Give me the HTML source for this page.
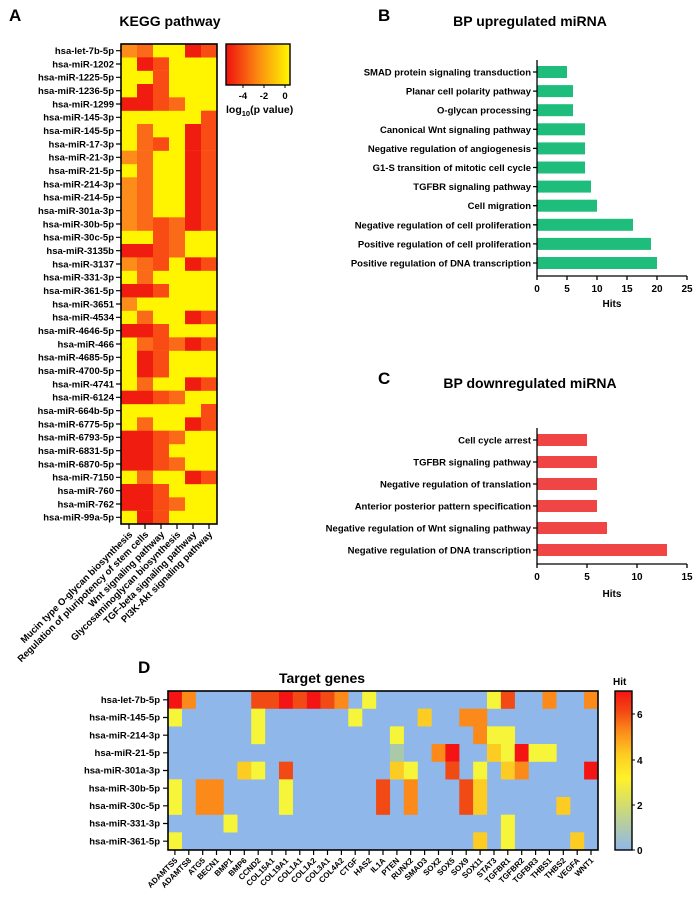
<!DOCTYPE html>
<html><head><meta charset="utf-8"><style>
body{margin:0;background:#fff}
svg{display:block;font-family:"Liberation Sans",sans-serif;font-weight:bold}
.a{fill:#f01c10}.b{fill:#f84c14}.c{fill:#fb6a18}.d{fill:#fd8c1a}
.r7{fill:#f41414}.r6{fill:#f24a14}.r5{fill:#fb8a1a}.r4{fill:#fdcc22}.r3{fill:#f6f53a}.r1{fill:#a9c9a8}
.l{font-size:9.5px;text-anchor:end}
.g{font-size:8px;text-anchor:end}
</style></head><body>
<svg width="697" height="900" viewBox="0 0 697 900" xmlns="http://www.w3.org/2000/svg">
<defs>
<linearGradient id="kg" x1="0" x2="1" y1="0" y2="0"><stop offset="0" stop-color="#f01010"/><stop offset="0.5" stop-color="#fb8a10"/><stop offset="1" stop-color="#fff800"/></linearGradient>
<linearGradient id="hg" x1="0" x2="0" y1="1" y2="0"><stop offset="0" stop-color="#8fb7ea"/><stop offset="0.28" stop-color="#d2dc70"/><stop offset="0.45" stop-color="#fff22a"/><stop offset="0.6" stop-color="#fdcc22"/><stop offset="0.75" stop-color="#fb8a1a"/><stop offset="0.87" stop-color="#f24a14"/><stop offset="1" stop-color="#f41414"/></linearGradient>
</defs>
<!-- Panel A -->
<text x="9" y="21" font-size="17">A</text>
<text x="170" y="26" font-size="14" text-anchor="middle">KEGG pathway</text>
<rect x="121" y="44" width="96" height="480" fill="#fff500"/>
<g>
<g transform="translate(0,44)"><rect class="d" x="121" width="16" height="13.5"/><rect class="c" x="137" width="16" height="13.5"/><rect class="a" x="185" width="16" height="13.5"/><rect class="b" x="201" width="16" height="13.5"/></g>
<g transform="translate(0,57.33)"><rect class="a" x="137" width="16" height="13.5"/><rect class="b" x="153" width="16" height="13.5"/></g>
<g transform="translate(0,70.67)"><rect class="b" x="153" width="16" height="13.5"/></g>
<g transform="translate(0,84)"><rect class="a" x="137" width="16" height="13.5"/><rect class="b" x="153" width="16" height="13.5"/></g>
<g transform="translate(0,97.33)"><rect class="a" x="121" width="32" height="13.5"/><rect class="b" x="153" width="16" height="13.5"/><rect class="c" x="169" width="16" height="13.5"/></g>
<g transform="translate(0,110.67)"><rect class="b" x="201" width="16" height="13.5"/></g>
<g transform="translate(0,124)"><rect class="c" x="137" width="16" height="13.5"/><rect class="a" x="185" width="16" height="13.5"/><rect class="b" x="201" width="16" height="13.5"/></g>
<g transform="translate(0,137.33)"><rect class="c" x="137" width="16" height="13.5"/><rect class="b" x="153" width="16" height="13.5"/><rect class="a" x="185" width="16" height="13.5"/><rect class="b" x="201" width="16" height="13.5"/></g>
<g transform="translate(0,150.67)"><rect class="d" x="121" width="16" height="13.5"/><rect class="c" x="137" width="16" height="13.5"/><rect class="a" x="185" width="16" height="13.5"/><rect class="b" x="201" width="16" height="13.5"/></g>
<g transform="translate(0,164)"><rect class="c" x="137" width="16" height="13.5"/><rect class="a" x="185" width="16" height="13.5"/><rect class="b" x="201" width="16" height="13.5"/></g>
<g transform="translate(0,177.33)"><rect class="d" x="121" width="16" height="53.5"/><rect class="c" x="137" width="16" height="53.5"/><rect class="a" x="185" width="16" height="53.5"/><rect class="b" x="201" width="16" height="53.5"/></g>
<g transform="translate(0,217.33)"><rect class="b" x="153" width="16" height="26.8"/><rect class="c" x="169" width="16" height="26.8"/></g>
<g transform="translate(0,244)"><rect class="a" x="121" width="32" height="13.5"/><rect class="b" x="153" width="16" height="13.5"/><rect class="c" x="169" width="16" height="13.5"/></g>
<g transform="translate(0,257.33)"><rect class="d" x="121" width="16" height="13.5"/><rect class="c" x="137" width="16" height="13.5"/><rect class="b" x="153" width="16" height="13.5"/><rect class="a" x="185" width="16" height="13.5"/><rect class="b" x="201" width="16" height="13.5"/></g>
<g transform="translate(0,270.67)"><rect class="c" x="137" width="16" height="13.5"/></g>
<g transform="translate(0,284)"><rect class="a" x="121" width="32" height="13.5"/><rect class="b" x="153" width="16" height="13.5"/></g>
<g transform="translate(0,297.33)"><rect class="d" x="121" width="16" height="13.5"/></g>
<g transform="translate(0,310.67)"><rect class="c" x="137" width="16" height="13.5"/><rect class="a" x="185" width="16" height="13.5"/><rect class="b" x="201" width="16" height="13.5"/></g>
<g transform="translate(0,324)"><rect class="a" x="121" width="32" height="13.5"/><rect class="b" x="153" width="16" height="13.5"/></g>
<g transform="translate(0,337.33)"><rect class="c" x="137" width="16" height="13.5"/><rect class="b" x="153" width="16" height="13.5"/><rect class="c" x="169" width="16" height="13.5"/><rect class="a" x="185" width="16" height="13.5"/><rect class="b" x="201" width="16" height="13.5"/></g>
<g transform="translate(0,350.67)"><rect class="a" x="137" width="16" height="26.8"/><rect class="b" x="153" width="16" height="26.8"/></g>
<g transform="translate(0,377.33)"><rect class="c" x="137" width="16" height="13.5"/><rect class="a" x="185" width="16" height="13.5"/><rect class="b" x="201" width="16" height="13.5"/></g>
<g transform="translate(0,390.67)"><rect class="a" x="121" width="32" height="13.5"/><rect class="b" x="153" width="16" height="13.5"/><rect class="c" x="169" width="16" height="13.5"/></g>
<g transform="translate(0,404)"><rect class="b" x="201" width="16" height="13.5"/></g>
<g transform="translate(0,417.33)"><rect class="c" x="137" width="16" height="13.5"/><rect class="a" x="185" width="16" height="13.5"/><rect class="b" x="201" width="16" height="13.5"/></g>
<g transform="translate(0,430.67)"><rect class="a" x="121" width="32" height="40"/><rect class="b" x="153" width="16" height="40"/><rect class="c" x="169" width="16" height="13.5"/></g>
<g transform="translate(0,457.33)"><rect class="c" x="169" width="16" height="13.5"/></g>
<g transform="translate(0,470.67)"><rect class="c" x="137" width="16" height="13.5"/><rect class="a" x="185" width="16" height="13.5"/><rect class="b" x="201" width="16" height="13.5"/></g>
<g transform="translate(0,484)"><rect class="a" x="121" width="32" height="26.8"/><rect class="b" x="153" width="16" height="26.8"/></g>
<g transform="translate(0,497.33)"><rect class="c" x="169" width="16" height="13.5"/></g>
<g transform="translate(0,510.67)"><rect class="a" x="137" width="16" height="13.3"/><rect class="b" x="153" width="16" height="13.3"/></g>
</g>
<rect x="121" y="44" width="96" height="480" fill="none" stroke="#000" stroke-width="1.6"/>
<g stroke="#000" stroke-width="1.2">
<path d="M116 50.7h5M116 64h5M116 77.3h5M116 90.7h5M116 104h5M116 117.3h5M116 130.7h5M116 144h5M116 157.3h5M116 170.7h5M116 184h5M116 197.3h5M116 210.7h5M116 224h5M116 237.3h5M116 250.7h5M116 264h5M116 277.3h5M116 290.7h5M116 304h5M116 317.3h5M116 330.7h5M116 344h5M116 357.3h5M116 370.7h5M116 384h5M116 397.3h5M116 410.7h5M116 424h5M116 437.3h5M116 450.7h5M116 464h5M116 477.3h5M116 490.7h5M116 504h5M116 517.3h5"/>
<path d="M129 524v5M145 524v5M161 524v5M177 524v5M193 524v5M209 524v5"/>
</g>
<g class="l">
<text x="114" y="54">hsa-let-7b-5p</text><text x="114" y="67.3">hsa-miR-1202</text><text x="114" y="80.6">hsa-miR-1225-5p</text><text x="114" y="94">hsa-miR-1236-5p</text><text x="114" y="107.3">hsa-miR-1299</text><text x="114" y="120.6">hsa-miR-145-3p</text><text x="114" y="134">hsa-miR-145-5p</text><text x="114" y="147.3">hsa-miR-17-3p</text><text x="114" y="160.6">hsa-miR-21-3p</text><text x="114" y="174">hsa-miR-21-5p</text><text x="114" y="187.3">hsa-miR-214-3p</text><text x="114" y="200.6">hsa-miR-214-5p</text><text x="114" y="214">hsa-miR-301a-3p</text><text x="114" y="227.3">hsa-miR-30b-5p</text><text x="114" y="240.6">hsa-miR-30c-5p</text><text x="114" y="254">hsa-miR-3135b</text><text x="114" y="267.3">hsa-miR-3137</text><text x="114" y="280.6">hsa-miR-331-3p</text><text x="114" y="294">hsa-miR-361-5p</text><text x="114" y="307.3">hsa-miR-3651</text><text x="114" y="320.6">hsa-miR-4534</text><text x="114" y="334">hsa-miR-4646-5p</text><text x="114" y="347.3">hsa-miR-466</text><text x="114" y="360.6">hsa-miR-4685-5p</text><text x="114" y="374">hsa-miR-4700-5p</text><text x="114" y="387.3">hsa-miR-4741</text><text x="114" y="400.6">hsa-miR-6124</text><text x="114" y="414">hsa-miR-664b-5p</text><text x="114" y="427.3">hsa-miR-6775-5p</text><text x="114" y="440.6">hsa-miR-6793-5p</text><text x="114" y="454">hsa-miR-6831-5p</text><text x="114" y="467.3">hsa-miR-6870-5p</text><text x="114" y="480.6">hsa-miR-7150</text><text x="114" y="494">hsa-miR-760</text><text x="114" y="507.3">hsa-miR-762</text><text x="114" y="520.6">hsa-miR-99a-5p</text>
</g>
<g class="l">
<text transform="translate(133,535) rotate(-45)">Mucin type O-glycan biosynthesis</text>
<text transform="translate(149,535) rotate(-45)">Regulation of pluripotency of stem cells</text>
<text transform="translate(165,535) rotate(-45)">Wnt signaling pathway</text>
<text transform="translate(181,535) rotate(-45)">Glycosaminoglycan biosynthesis</text>
<text transform="translate(197,535) rotate(-45)">TGF-beta signaling pathway</text>
<text transform="translate(213,535) rotate(-45)">PI3K-Akt signaling pathway</text>
</g>
<rect x="226" y="44" width="64" height="41" fill="url(#kg)" stroke="#000" stroke-width="1.4"/>
<path d="M243 85v3M264 85v3M285 85v3" stroke="#000"/>
<g font-size="9.5" text-anchor="middle"><text x="243" y="99">-4</text><text x="264" y="99">-2</text><text x="285" y="99">0</text></g>
<text x="226" y="113" font-size="10.5">log<tspan font-size="7.5" dy="3">10</tspan><tspan dy="-3">(p value)</tspan></text>

<!-- Panel B -->
<text x="378" y="21" font-size="17">B</text>
<text x="530" y="26" font-size="14" text-anchor="middle">BP upregulated miRNA</text>
<g fill="#1fbd7b">
<rect x="537" y="66" width="30" height="12"/><rect x="537" y="85.1" width="36" height="12"/><rect x="537" y="104.2" width="36" height="12"/><rect x="537" y="123.3" width="48" height="12"/><rect x="537" y="142.4" width="48" height="12"/><rect x="537" y="161.5" width="48" height="12"/><rect x="537" y="180.6" width="54" height="12"/><rect x="537" y="199.7" width="60" height="12"/><rect x="537" y="218.8" width="96" height="12"/><rect x="537" y="237.9" width="114" height="12"/><rect x="537" y="257" width="120" height="12"/>
</g>
<g class="l" font-size="10">
<text x="531" y="75.5">SMAD protein signaling transduction</text><text x="531" y="94.6">Planar cell polarity pathway</text><text x="531" y="113.7">O-glycan processing</text><text x="531" y="132.8">Canonical Wnt signaling pathway</text><text x="531" y="151.9">Negative regulation of angiogenesis</text><text x="531" y="171">G1-S transition of mitotic cell cycle</text><text x="531" y="190.1">TGFBR signaling pathway</text><text x="531" y="209.2">Cell migration</text><text x="531" y="228.3">Negative regulation of cell proliferation</text><text x="531" y="247.4">Positive regulation of cell proliferation</text><text x="531" y="266.5">Positive regulation of DNA transcription</text>
</g>
<g stroke="#000" stroke-width="1.3" fill="none">
<path d="M537 60V276H687"/>
<path d="M533 72h4M533 91.1h4M533 110.2h4M533 129.3h4M533 148.4h4M533 167.5h4M533 186.6h4M533 205.7h4M533 224.8h4M533 243.9h4M533 263h4"/>
<path d="M537 276v4M567 276v4M597 276v4M627 276v4M657 276v4M687 276v4"/>
</g>
<g font-size="10" text-anchor="middle"><text x="537" y="292">0</text><text x="567" y="292">5</text><text x="597" y="292">10</text><text x="627" y="292">15</text><text x="657" y="292">20</text><text x="687" y="292">25</text><text x="612" y="307">Hits</text></g>

<!-- Panel C -->
<text x="378" y="384" font-size="17">C</text>
<text x="530" y="388" font-size="14" text-anchor="middle">BP downregulated miRNA</text>
<g fill="#f04545">
<rect x="537" y="434" width="50" height="12"/><rect x="537" y="456" width="60" height="12"/><rect x="537" y="478" width="60" height="12"/><rect x="537" y="500" width="60" height="12"/><rect x="537" y="522" width="70" height="12"/><rect x="537" y="544" width="130" height="12"/>
</g>
<g class="l" font-size="10">
<text x="531" y="443.5">Cell cycle arrest</text><text x="531" y="465.5">TGFBR signaling pathway</text><text x="531" y="487.5">Negative regulation of translation</text><text x="531" y="509.5">Anterior posterior pattern specification</text><text x="531" y="531.5">Negative regulation of Wnt signaling pathway</text><text x="531" y="553.5">Negative regulation of DNA transcription</text>
</g>
<g stroke="#000" stroke-width="1.3" fill="none">
<path d="M537 428V564H687"/>
<path d="M533 440h4M533 462h4M533 484h4M533 506h4M533 528h4M533 550h4"/>
<path d="M537 564v4M587 564v4M637 564v4M687 564v4"/>
</g>
<g font-size="10" text-anchor="middle"><text x="537" y="580">0</text><text x="587" y="580">5</text><text x="637" y="580">10</text><text x="687" y="580">15</text><text x="612" y="597">Hits</text></g>

<!-- Panel D -->
<text x="138" y="673" font-size="17">D</text>
<text x="322" y="683" font-size="14" text-anchor="middle">Target genes</text>
<rect x="168" y="691" width="430" height="159" fill="#8fb7ea"/>
<g>
<g transform="translate(0,691)"><rect class="r7" x="168" width="14" height="17.8"/><rect class="r5" x="181.87" width="14" height="17.8"/><rect class="r6" x="251.22" width="28" height="17.8"/><rect class="r7" x="278.96" width="14" height="17.8"/><rect class="r6" x="292.83" width="14" height="17.8"/><rect class="r7" x="306.7" width="14" height="17.8"/><rect class="r6" x="320.57" width="14" height="17.8"/><rect class="r5" x="334.44" width="14" height="17.8"/><rect class="r3" x="362.18" width="14" height="17.8"/><rect class="r3" x="487.01" width="14" height="17.8"/><rect class="r6" x="500.88" width="14" height="17.8"/><rect class="r5" x="542.49" width="14" height="17.8"/><rect class="r5" x="584.1" width="14" height="17.8"/></g>
<g transform="translate(0,708.67)"><rect class="r3" x="168" width="14" height="17.8"/><rect class="r3" x="251.22" width="14" height="35.5"/><rect class="r3" x="348.31" width="14" height="17.8"/><rect class="r4" x="417.66" width="14" height="17.8"/><rect class="r5" x="459.27" width="28" height="17.8"/></g>
<g transform="translate(0,726.33)"><rect class="r3" x="389.92" width="14" height="17.8"/><rect class="r5" x="473.14" width="14" height="17.8"/><rect class="r3" x="487.01" width="28" height="17.8"/></g>
<g transform="translate(0,744)"><rect class="r1" x="389.92" width="14" height="17.8"/><rect class="r5" x="431.53" width="14" height="17.8"/><rect class="r7" x="445.4" width="14" height="17.8"/><rect class="r4" x="487.01" width="14" height="17.8"/><rect class="r3" x="500.88" width="14" height="17.8"/><rect class="r7" x="514.75" width="14" height="17.8"/><rect class="r3" x="528.62" width="28" height="17.8"/></g>
<g transform="translate(0,761.67)"><rect class="r4" x="237.35" width="14" height="17.8"/><rect class="r3" x="251.22" width="14" height="17.8"/><rect class="r6" x="278.96" width="14" height="17.8"/><rect class="r4" x="389.92" width="14" height="17.8"/><rect class="r3" x="403.79" width="14" height="17.8"/><rect class="r6" x="445.4" width="14" height="17.8"/><rect class="r3" x="473.14" width="14" height="17.8"/><rect class="r4" x="500.88" width="14" height="17.8"/><rect class="r5" x="514.75" width="14" height="17.8"/><rect class="r7" x="584.1" width="14" height="17.8"/></g>
<g transform="translate(0,779.33)"><rect class="r3" x="168" width="14" height="35.5"/><rect class="r5" x="195.74" width="28" height="35.5"/><rect class="r3" x="278.96" width="14" height="35.5"/><rect class="r6" x="376.05" width="14" height="35.5"/><rect class="r5" x="403.79" width="14" height="35.5"/><rect class="r6" x="459.27" width="14" height="35.5"/><rect class="r4" x="473.14" width="14" height="35.5"/></g>
<g transform="translate(0,797)"><rect class="r4" x="556.36" width="14" height="17.8"/></g>
<g transform="translate(0,814.67)"><rect class="r3" x="223.48" width="14" height="17.8"/><rect class="r3" x="500.88" width="14" height="35.4"/></g>
<g transform="translate(0,832.33)"><rect class="r3" x="168" width="14" height="17.7"/><rect class="r4" x="473.14" width="14" height="17.7"/><rect class="r4" x="570.23" width="14" height="17.7"/></g>
</g>
<rect x="168" y="691" width="430" height="159" fill="none" stroke="#000" stroke-width="1.6"/>
<g stroke="#000" stroke-width="1.2">
<path d="M163 699.8h5M163 717.5h5M163 735.2h5M163 752.8h5M163 770.5h5M163 788.2h5M163 805.8h5M163 823.5h5M163 841.2h5"/>
<path d="M174.9 850v5M188.8 850v5M202.7 850v5M216.5 850v5M230.4 850v5M244.3 850v5M258.2 850v5M272 850v5M285.9 850v5M299.8 850v5M313.6 850v5M327.5 850v5M341.4 850v5M355.2 850v5M369.1 850v5M383 850v5M396.9 850v5M410.7 850v5M424.6 850v5M438.5 850v5M452.3 850v5M466.2 850v5M480.1 850v5M494 850v5M507.8 850v5M521.7 850v5M535.6 850v5M549.4 850v5M563.3 850v5M577.2 850v5M591 850v5"/>
</g>
<g class="l">
<text x="160" y="703">hsa-let-7b-5p</text><text x="160" y="720.7">hsa-miR-145-5p</text><text x="160" y="738.4">hsa-miR-214-3p</text><text x="160" y="756">hsa-miR-21-5p</text><text x="160" y="773.7">hsa-miR-301a-3p</text><text x="160" y="791.4">hsa-miR-30b-5p</text><text x="160" y="809">hsa-miR-30c-5p</text><text x="160" y="826.7">hsa-miR-331-3p</text><text x="160" y="844.4">hsa-miR-361-5p</text>
</g>
<g class="g">
<text transform="translate(178,861) rotate(-45)">ADAMTS5</text><text transform="translate(191.8,861) rotate(-45)">ADAMTS8</text><text transform="translate(205.7,861) rotate(-45)">ATG5</text><text transform="translate(219.5,861) rotate(-45)">BECN1</text><text transform="translate(233.4,861) rotate(-45)">BMP1</text><text transform="translate(247.3,861) rotate(-45)">BMP6</text><text transform="translate(261.2,861) rotate(-45)">CCND2</text><text transform="translate(275,861) rotate(-45)">COL15A1</text><text transform="translate(288.9,861) rotate(-45)">COL19A1</text><text transform="translate(302.8,861) rotate(-45)">COL1A1</text><text transform="translate(316.6,861) rotate(-45)">COL1A2</text><text transform="translate(330.5,861) rotate(-45)">COL3A1</text><text transform="translate(344.4,861) rotate(-45)">COL4A2</text><text transform="translate(358.2,861) rotate(-45)">CTGF</text><text transform="translate(372.1,861) rotate(-45)">HAS2</text><text transform="translate(386,861) rotate(-45)">IL1A</text><text transform="translate(399.9,861) rotate(-45)">PTEN</text><text transform="translate(413.7,861) rotate(-45)">RUNX2</text><text transform="translate(427.6,861) rotate(-45)">SMAD3</text><text transform="translate(441.5,861) rotate(-45)">SOX2</text><text transform="translate(455.3,861) rotate(-45)">SOX5</text><text transform="translate(469.2,861) rotate(-45)">SOX9</text><text transform="translate(483.1,861) rotate(-45)">SOX11</text><text transform="translate(497,861) rotate(-45)">STAT3</text><text transform="translate(510.8,861) rotate(-45)">TGFBR1</text><text transform="translate(524.7,861) rotate(-45)">TGFBR2</text><text transform="translate(538.6,861) rotate(-45)">TGFBR3</text><text transform="translate(552.4,861) rotate(-45)">THBS1</text><text transform="translate(566.3,861) rotate(-45)">THBS2</text><text transform="translate(580.2,861) rotate(-45)">VEGFA</text><text transform="translate(594,861) rotate(-45)">WNT1</text>
</g>
<rect x="615" y="691" width="17" height="159" fill="url(#hg)" stroke="#000" stroke-width="1.4"/>
<path d="M632 714h3M632 760h3M632 805h3M632 850h3" stroke="#000"/>
<g font-size="10"><text x="637" y="718">6</text><text x="637" y="764">4</text><text x="637" y="809">2</text><text x="637" y="854">0</text><text x="613" y="685">Hit</text></g>
</svg>
</body></html>
